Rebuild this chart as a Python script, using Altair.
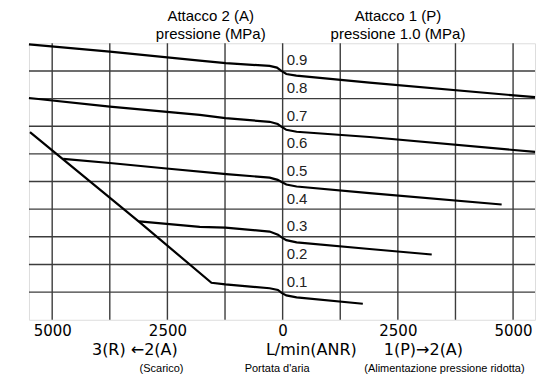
import altair as alt
import pandas as pd

# ---- axis / grid values ----
x_domain = [-5504, 5476]
grid_x = [-5000, -3750, -2500, -1250, 0, 1250, 2500, 3750, 5000]
grid_y = [0.1, 0.2, 0.3, 0.4, 0.5, 0.6, 0.7, 0.8, 0.9]
tick_values = [-5000, -2500, 0, 2500, 5000]
level_labels = ["0.1", "0.2", "0.3", "0.4", "0.5", "0.6", "0.7", "0.8", "0.9"]

# ---- curves (flow L/min: negative = exhaust side, pressure MPa) ----
c09_x = [-5504, -3749, -1798, -1235, -282, -124, -28, 80, 297, 1885, 5476]
c09_y = [0.996, 0.970, 0.937, 0.928, 0.918, 0.912, 0.900, 0.889, 0.883, 0.858, 0.805]

c07_x = [-5504, -3749, -1798, -1242, -282, -108, -22, 80, 303, 1885, 5476]
c07_y = [0.802, 0.771, 0.741, 0.729, 0.716, 0.708, 0.698, 0.687, 0.680, 0.661, 0.607]

c05_x = [-4761, -3749, -2520, -1220, -282, -108, -22, 80, 303, 1885, 4752]
c05_y = [0.582, 0.567, 0.547, 0.527, 0.514, 0.506, 0.498, 0.489, 0.482, 0.458, 0.417]

c03_x = [-3114, -1798, -1242, -282, -102, -22, 80, 303, 1885, 3235]
c03_y = [0.356, 0.336, 0.333, 0.319, 0.308, 0.298, 0.288, 0.280, 0.256, 0.236]

c01_x = [-5482, -3099, -1545, -1242, -282, -102, -22, 80, 303, 1740]
c01_y = [0.679, 0.352, 0.134, 0.128, 0.114, 0.108, 0.097, 0.088, 0.081, 0.058]

# ---- annotation texts ----
top_texts = ["Attacco 2 (A)", "pressione (MPa)", "Attacco 1 (P)", "pressione 1.0 (MPa)"]
top_x = [-1560, -1560, 2503, 2503]
top_y = [-22.5, -4.5, -22.5, -4.5]

row2_texts = ["3(R) \u21902(A)", "L/min(ANR)", "1(P)\u21922(A)"]
row2_x = [-3207, 622, 3055]

row3_texts = ["(Scarico)", "Portata d'aria", "(Alimentazione pressione ridotta)"]
row3_x = [-2628, -119, 3510]

rows = []
for name, xs_, ys_ in [("0.9", c09_x, c09_y), ("0.7", c07_x, c07_y), ("0.5", c05_x, c05_y),
                       ("0.3", c03_x, c03_y), ("0.1", c01_x, c01_y)]:
    for i, (a, b) in enumerate(zip(xs_, ys_)):
        rows.append({"series": name, "order": i, "flow": a, "p": b})
curves = pd.DataFrame(rows)

xs = alt.Scale(domain=x_domain, nice=False, zero=False)
ys = alt.Scale(domain=[0, 1.0], nice=False, zero=False)

x_axis = alt.Axis(values=tick_values, labelExpr="toString(abs(datum.value))",
                  labelFont="DejaVu Sans", labelFontSize=15, labelColor="black",
                  domain=False, ticks=False, grid=False, labelPadding=4,
                  labelFlush=False, labelOverlap=False, title=None)

vgrid = alt.Chart(pd.DataFrame({"g": grid_x})).mark_rule(color="#3c3c3c", strokeWidth=1.4).encode(
    x=alt.X("g:Q", scale=xs, axis=x_axis))
hgrid = alt.Chart(pd.DataFrame({"g": grid_y})).mark_rule(color="#3c3c3c", strokeWidth=1.4).encode(
    y=alt.Y("g:Q", scale=ys, axis=None))

lines = alt.Chart(curves).mark_line(color="black", strokeWidth=2.2).encode(
    x=alt.X("flow:Q", scale=xs, title=None),
    y=alt.Y("p:Q", scale=ys, axis=None),
    detail="series:N",
    order="order:Q",
)

lbl_df = pd.DataFrame({"t": level_labels, "v": grid_y, "x0": [0] * len(grid_y)})
level_text = alt.Chart(lbl_df).mark_text(
    align="left", baseline="alphabetic", dx=4, dy=-5.5,
    font="Liberation Sans", fontSize=15, color="#222").encode(
    x=alt.X("x0:Q", scale=xs, title=None), y=alt.Y("v:Q", scale=ys, axis=None), text="t:N")

top_df = pd.DataFrame({"t": top_texts, "x": top_x, "y": top_y})
top_layer = alt.Chart(top_df).mark_text(
    align="center", baseline="alphabetic", font="Liberation Sans", fontSize=15, color="black").encode(
    x=alt.X("x:Q", scale=xs, title=None),
    y=alt.Y("y:Q", scale=alt.Scale(domain=[0, 277], range=[0, 277]), axis=None),
    text="t:N")

r2_df = pd.DataFrame({"t": row2_texts, "x": row2_x})
row2 = alt.Chart(r2_df).mark_text(
    align="center", baseline="alphabetic", font="DejaVu Sans", fontSize=16, color="black").encode(
    x=alt.X("x:Q", scale=xs, title=None), y=alt.value(312), text="t:N")

r3_df = pd.DataFrame({"t": row3_texts, "x": row3_x})
row3 = alt.Chart(r3_df).mark_text(
    align="center", baseline="alphabetic", font="Liberation Sans", fontSize=11, color="black").encode(
    x=alt.X("x:Q", scale=xs, title=None), y=alt.value(329), text="t:N")

chart = alt.layer(vgrid, hgrid, lines, level_text, top_layer, row2, row3).resolve_scale(
    y="independent"
).properties(
    width=507, height=277,
    autosize=alt.AutoSizeParams(type="none"),
    padding={"left": 21, "top": 35, "right": 10, "bottom": 60},
).configure_view(fill="#e4e4e4", stroke="#666", strokeWidth=1.5).configure(background="white")

chart.save("out.html", embed_options={"renderer": "svg", "actions": False})
